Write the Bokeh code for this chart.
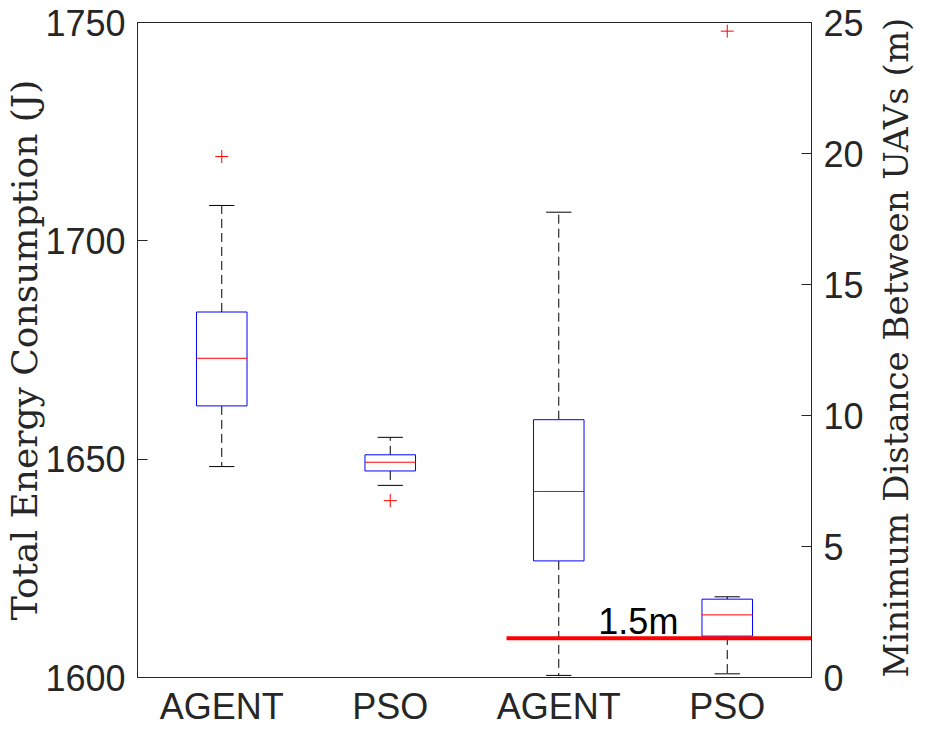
import math
from bokeh.plotting import figure
from bokeh.models import Range1d, LinearAxis, FixedTicker, Label
from bokeh.embed import file_html
from bokeh.resources import INLINE

# Groups along the x axis
categories = ["AGENT", "PSO", "AGENT", "PSO"]
positions = [1, 2, 3, 4]
# Which y axis each box is read against: energy (left) or distance (right)
axis_names = ["default", "default", "right", "right"]

# Box statistics
lower_whisker = [1648.3, 1644.0, 0.08, 0.14]
q1 = [1662.2, 1647.3, 4.45, 1.58]
median = [1673.1, 1649.3, 7.10, 2.39]
q3 = [1683.7, 1651.0, 9.84, 2.99]
upper_whisker = [1708.1, 1655.0, 17.76, 3.08]
outliers = [[1719.3], [1640.5], [], [24.67]]

# Safety threshold on the minimum distance (m)
threshold = 1.5
threshold_start = 2.69

energy_ticks = [1600, 1650, 1700, 1750]
distance_ticks = [0, 5, 10, 15, 20, 25]

BOX_W = 0.3
CAP_W = 0.15
SANS = "Liberation Sans"
SERIF = "DejaVu Serif"
INK = "#262626"

p = figure(width=938, height=730, output_backend="svg", toolbar_location=None,
           x_range=Range1d(0.5, 4.5), y_range=Range1d(1600, 1750),
           min_border_left=137, min_border_right=126, min_border_top=22,
           min_border_bottom=53)
p.extra_y_ranges = {"right": Range1d(0, 25)}
p.xgrid.visible = False
p.ygrid.visible = False
p.outline_line_color = INK
p.outline_line_width = 1
p.background_fill_color = "white"
p.border_fill_color = "white"

for i, pos in enumerate(positions):
    rn = axis_names[i]
    kw = {} if rn == "default" else {"y_range_name": rn}
    # whiskers
    p.segment(x0=[pos, pos], y0=[q3[i], q1[i]], x1=[pos, pos],
              y1=[upper_whisker[i], lower_whisker[i]],
              line_color="black", line_width=1, line_dash="9 5", **kw)
    # caps
    p.segment(x0=[pos - CAP_W / 2] * 2, x1=[pos + CAP_W / 2] * 2,
              y0=[upper_whisker[i], lower_whisker[i]],
              y1=[upper_whisker[i], lower_whisker[i]],
              line_color="black", line_width=1, **kw)
    # box
    p.vbar(x=[pos], width=BOX_W, bottom=[q1[i]], top=[q3[i]],
           fill_color="white", line_color="blue", line_width=1, **kw)
    # median
    p.segment(x0=[pos - BOX_W / 2], x1=[pos + BOX_W / 2],
              y0=[median[i]], y1=[median[i]], line_color="red", line_width=1, **kw)
    # outliers
    if outliers[i]:
        p.scatter(x=[pos] * len(outliers[i]), y=outliers[i], marker="cross",
                  size=13, line_color="red", line_width=1, **kw)

# threshold line
p.segment(x0=[threshold_start], x1=[4.5], y0=[threshold], y1=[threshold],
          line_color="red", line_width=4, y_range_name="right")
p.add_layout(Label(x=3.235, y=2.15, y_range_name="right",
                   text=f"{threshold}m", text_font=SANS, text_font_size="36px",
                   text_color="black", text_baseline="alphabetic"))

# left axis
ax = p.yaxis[0]
ax.ticker = FixedTicker(ticks=energy_ticks)
ax.axis_label = "Total Energy Consumption (J)"
ax.axis_label_text_font = SERIF
ax.axis_label_text_font_style = "normal"
ax.axis_label_text_font_size = "36px"
ax.axis_label_text_color = INK
ax.major_label_text_font = SANS
ax.major_label_text_font_size = "36px"
ax.major_label_text_color = INK
ax.major_tick_in = 10
ax.major_tick_out = 0
ax.minor_tick_line_color = None
ax.axis_line_color = INK
ax.major_tick_line_color = INK
ax.major_label_standoff = 12
ax.axis_label_standoff = -3

# right axis, with its title reading bottom-to-top from the lower end
rax = LinearAxis(y_range_name="right", ticker=FixedTicker(ticks=distance_ticks),
                 axis_label="Minimum Distance Between UAVs (m)")
rax.axis_label_orientation = math.pi / 2
rax.axis_label_align = "start"
rax.axis_label_text_font = SERIF
rax.axis_label_text_font_style = "normal"
rax.axis_label_text_font_size = "34px"
rax.axis_label_text_color = INK
rax.axis_label_standoff = 29
rax.major_label_text_font = SANS
rax.major_label_text_font_size = "36px"
rax.major_label_text_color = INK
rax.major_tick_in = 10
rax.major_tick_out = 0
rax.minor_tick_line_color = None
rax.axis_line_color = INK
rax.major_tick_line_color = INK
rax.major_label_standoff = 12
p.add_layout(rax, "right")

# x axis
xax = p.xaxis[0]
xax.ticker = FixedTicker(ticks=positions)
xax.major_label_overrides = {pos: name for pos, name in zip(positions, categories)}
xax.major_label_text_font = SANS
xax.major_label_text_font_size = "36px"
xax.major_label_text_color = INK
xax.major_tick_in = 0
xax.major_tick_out = 0
xax.minor_tick_line_color = None
xax.axis_line_color = INK
xax.major_label_standoff = 8

open("out.html", "w").write(file_html(p, INLINE))
